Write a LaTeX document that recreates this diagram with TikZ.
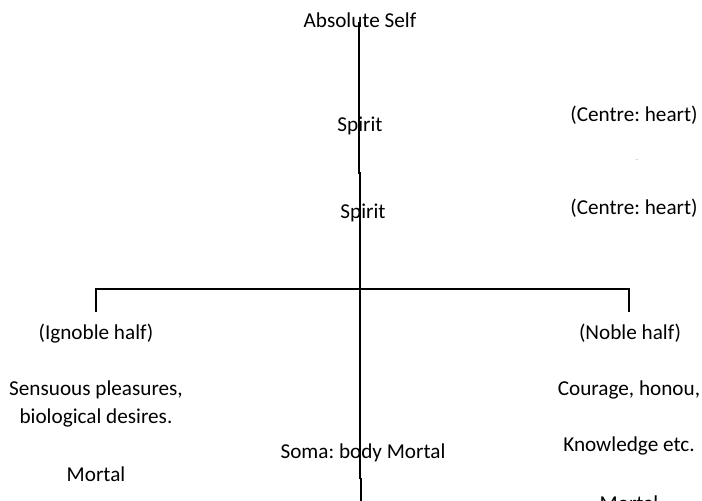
\documentclass[tikz,border=0pt]{standalone}
\usepackage{fontspec}
\setmainfont{Carlito}
\frenchspacing
\begin{document}
\begin{tikzpicture}[x=0.5pt,y=-0.5pt,
  lbl/.style={anchor=base,inner sep=0pt,font=\fontsize{10.6pt}{12pt}\selectfont},
  ln/.style={line width=1pt,black},
  thick ln/.style={line width=1.4pt,black}]
\useasboundingbox (0,0) rectangle (702,501);
\clip (0,0) rectangle (702,501);
% lines
\coordinate (v1a) at (359,22);
\coordinate (v1b) at (359,174);
\coordinate (v2a) at (360,172);
\coordinate (v2b) at (360,479);
\coordinate (v3a) at (361,478);
\coordinate (v3b) at (361,502);
\coordinate (hl) at (96,289);
\coordinate (hr) at (629,289);
\coordinate (tl) at (96,312);
\coordinate (tr) at (629,312);
\draw[ln] (v1a) -- (v1b);
\draw[thick ln] (v2a) -- (v2b);
\draw[ln] (v3a) -- (v3b);
\draw[ln] (tl) -- (hl) -- (hr) -- (tr);
% texts
\node[lbl] (abs) at (360,28) {Absolute Self};
\node[lbl] (sp1) at (360,132) {Spirit};
\node[lbl] (sp2) at (363,219) {Spirit};
\node[lbl] (ch1) at (634,122) {(Centre: heart)};
\node[anchor=base,inner sep=0pt,font=\fontsize{3pt}{3pt}\selectfont,text=gray] (dots) at (637,161) {..};
\node[lbl] (ch2) at (634,215) {(Centre: heart)};
\node[lbl] (ign) at (96,340) {(Ignoble half)};
\node[lbl] (sen) at (96,396) {Sensuous pleasures,};
\node[lbl] (bio) at (96,424) {biological desires.};
\node[lbl] (mol) at (96,482) {Mortal};
\node[lbl] (nob) at (630,340) {(Noble half)};
\node[lbl] (cou) at (629,396) {Courage, honou,};
\node[lbl] (kno) at (629,452) {Knowledge etc.};
\node[lbl] (mor) at (629,511) {Mortal};
\node[lbl] (som) at (363,459) {Soma: body Mortal};
\end{tikzpicture}
\end{document}
